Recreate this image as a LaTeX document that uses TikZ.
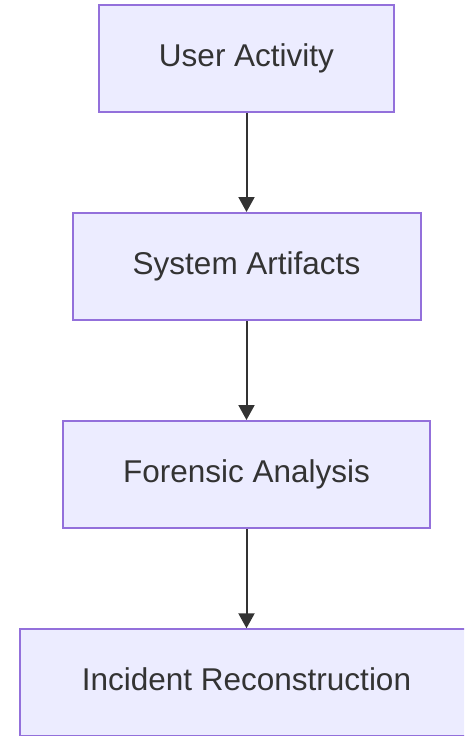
\documentclass[tikz,border=0pt]{standalone}
\usepackage{fontspec}
\setmainfont{Liberation Sans}
\usetikzlibrary{arrows.meta}
\definecolor{boxfill}{HTML}{ECECFF}
\definecolor{boxline}{HTML}{9370DB}
\definecolor{ink}{HTML}{333333}
\tikzset{
  flowbox/.style={draw=boxline, fill=boxfill, line width=2pt,
    minimum height=107pt, inner sep=0pt, text=ink,
    text height=22.5pt, text depth=6.6pt,
    font=\fontsize{31.5}{38}\selectfont},
  flowarrow/.style={draw=ink, line width=2pt,
    -{Triangle[length=15pt,width=16pt]}}
}
\begin{document}
\begin{tikzpicture}[x=1pt,y=1pt]
  \clip (0,0) rectangle (464,-736);
  \fill[white] (0,0) rectangle (464,-736);
  \node[flowbox, minimum width=295pt] (ua) at (246.5,-58.6) {User Activity};
  \node[flowbox, minimum width=348pt] (sa) at (246.5,-266.5) {System Artifacts};
  \node[flowbox, minimum width=367pt] (fa) at (246.5,-474.5) {Forensic Analysis};
  \node[flowbox, minimum width=454pt] (ir) at (246.5,-682.8) {Incident Reconstruction};
  \draw[flowarrow] (ua) -- (sa);
  \draw[flowarrow] (sa) -- (fa);
  \draw[flowarrow] (fa) -- (ir);
\end{tikzpicture}
\end{document}
